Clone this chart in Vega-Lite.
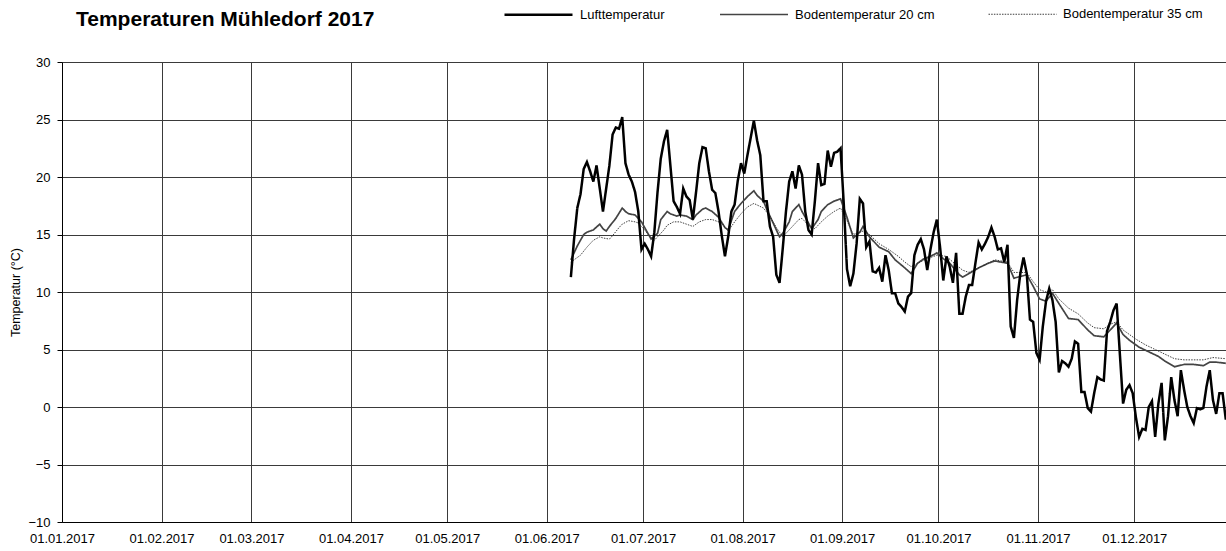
{
  "$schema": "https://vega.github.io/schema/vega-lite/v6.json",
  "width": 1164,
  "height": 460,
  "autosize": "none",
  "padding": {"left": 62, "top": 62, "right": 0, "bottom": 29},
  "background": "white",
  "title": {"text": "Temperaturen Mühledorf 2017", "anchor": "start", "frame": "group", "dx": 14, "offset": -68, "baseline": "alphabetic", "font": "Liberation Sans", "fontSize": 21, "fontWeight": "bold", "color": "#000"},
  "data": {"values": [
    {"d":"2017-06-08T12:00","s":"Lufttemperatur","v":11.3},
    {"d":"2017-06-09T12:00","s":"Lufttemperatur","v":14.6},
    {"d":"2017-06-10T12:00","s":"Lufttemperatur","v":17.3},
    {"d":"2017-06-11T12:00","s":"Lufttemperatur","v":18.5},
    {"d":"2017-06-12T12:00","s":"Lufttemperatur","v":20.7},
    {"d":"2017-06-13T12:00","s":"Lufttemperatur","v":21.3},
    {"d":"2017-06-14T12:00","s":"Lufttemperatur","v":20.5},
    {"d":"2017-06-15T12:00","s":"Lufttemperatur","v":19.6},
    {"d":"2017-06-16T12:00","s":"Lufttemperatur","v":21.0},
    {"d":"2017-06-17T12:00","s":"Lufttemperatur","v":19.0},
    {"d":"2017-06-18T12:00","s":"Lufttemperatur","v":17.0},
    {"d":"2017-06-19T12:00","s":"Lufttemperatur","v":19.0},
    {"d":"2017-06-20T12:00","s":"Lufttemperatur","v":21.0},
    {"d":"2017-06-21T12:00","s":"Lufttemperatur","v":23.7},
    {"d":"2017-06-22T12:00","s":"Lufttemperatur","v":24.3},
    {"d":"2017-06-23T12:00","s":"Lufttemperatur","v":24.2},
    {"d":"2017-06-24T12:00","s":"Lufttemperatur","v":25.2},
    {"d":"2017-06-25T12:00","s":"Lufttemperatur","v":21.2},
    {"d":"2017-06-26T12:00","s":"Lufttemperatur","v":20.2},
    {"d":"2017-06-27T12:00","s":"Lufttemperatur","v":19.6},
    {"d":"2017-06-28T12:00","s":"Lufttemperatur","v":18.7},
    {"d":"2017-06-29T12:00","s":"Lufttemperatur","v":17.0},
    {"d":"2017-06-30T12:00","s":"Lufttemperatur","v":13.7},
    {"d":"2017-07-01T12:00","s":"Lufttemperatur","v":14.2},
    {"d":"2017-07-02T12:00","s":"Lufttemperatur","v":13.7},
    {"d":"2017-07-03T12:00","s":"Lufttemperatur","v":13.1},
    {"d":"2017-07-04T12:00","s":"Lufttemperatur","v":15.2},
    {"d":"2017-07-05T12:00","s":"Lufttemperatur","v":18.7},
    {"d":"2017-07-06T12:00","s":"Lufttemperatur","v":21.6},
    {"d":"2017-07-07T12:00","s":"Lufttemperatur","v":23.1},
    {"d":"2017-07-08T12:00","s":"Lufttemperatur","v":24.1},
    {"d":"2017-07-09T12:00","s":"Lufttemperatur","v":21.0},
    {"d":"2017-07-10T12:00","s":"Lufttemperatur","v":17.9},
    {"d":"2017-07-11T12:00","s":"Lufttemperatur","v":17.4},
    {"d":"2017-07-12T12:00","s":"Lufttemperatur","v":16.8},
    {"d":"2017-07-13T12:00","s":"Lufttemperatur","v":19.0},
    {"d":"2017-07-14T12:00","s":"Lufttemperatur","v":18.3},
    {"d":"2017-07-15T12:00","s":"Lufttemperatur","v":18.0},
    {"d":"2017-07-16T12:00","s":"Lufttemperatur","v":16.3},
    {"d":"2017-07-17T12:00","s":"Lufttemperatur","v":18.7},
    {"d":"2017-07-18T12:00","s":"Lufttemperatur","v":21.2},
    {"d":"2017-07-19T12:00","s":"Lufttemperatur","v":22.6},
    {"d":"2017-07-20T12:00","s":"Lufttemperatur","v":22.5},
    {"d":"2017-07-21T12:00","s":"Lufttemperatur","v":20.5},
    {"d":"2017-07-22T12:00","s":"Lufttemperatur","v":18.9},
    {"d":"2017-07-23T12:00","s":"Lufttemperatur","v":18.6},
    {"d":"2017-07-24T12:00","s":"Lufttemperatur","v":17.0},
    {"d":"2017-07-25T12:00","s":"Lufttemperatur","v":14.9},
    {"d":"2017-07-26T12:00","s":"Lufttemperatur","v":13.1},
    {"d":"2017-07-27T12:00","s":"Lufttemperatur","v":14.8},
    {"d":"2017-07-28T12:00","s":"Lufttemperatur","v":17.0},
    {"d":"2017-07-29T12:00","s":"Lufttemperatur","v":17.6},
    {"d":"2017-07-30T12:00","s":"Lufttemperatur","v":19.7},
    {"d":"2017-07-31T12:00","s":"Lufttemperatur","v":21.2},
    {"d":"2017-08-01T12:00","s":"Lufttemperatur","v":20.3},
    {"d":"2017-08-02T12:00","s":"Lufttemperatur","v":21.9},
    {"d":"2017-08-03T12:00","s":"Lufttemperatur","v":23.4},
    {"d":"2017-08-04T12:00","s":"Lufttemperatur","v":24.9},
    {"d":"2017-08-05T12:00","s":"Lufttemperatur","v":23.2},
    {"d":"2017-08-06T12:00","s":"Lufttemperatur","v":21.9},
    {"d":"2017-08-07T12:00","s":"Lufttemperatur","v":17.9},
    {"d":"2017-08-08T12:00","s":"Lufttemperatur","v":17.9},
    {"d":"2017-08-09T12:00","s":"Lufttemperatur","v":15.7},
    {"d":"2017-08-10T12:00","s":"Lufttemperatur","v":14.8},
    {"d":"2017-08-11T12:00","s":"Lufttemperatur","v":11.5},
    {"d":"2017-08-12T12:00","s":"Lufttemperatur","v":10.8},
    {"d":"2017-08-13T12:00","s":"Lufttemperatur","v":13.8},
    {"d":"2017-08-14T12:00","s":"Lufttemperatur","v":17.0},
    {"d":"2017-08-15T12:00","s":"Lufttemperatur","v":19.6},
    {"d":"2017-08-16T12:00","s":"Lufttemperatur","v":20.5},
    {"d":"2017-08-17T12:00","s":"Lufttemperatur","v":19.0},
    {"d":"2017-08-18T12:00","s":"Lufttemperatur","v":21.0},
    {"d":"2017-08-19T12:00","s":"Lufttemperatur","v":20.2},
    {"d":"2017-08-20T12:00","s":"Lufttemperatur","v":17.0},
    {"d":"2017-08-21T12:00","s":"Lufttemperatur","v":15.4},
    {"d":"2017-08-22T12:00","s":"Lufttemperatur","v":15.0},
    {"d":"2017-08-23T12:00","s":"Lufttemperatur","v":17.9},
    {"d":"2017-08-24T12:00","s":"Lufttemperatur","v":21.2},
    {"d":"2017-08-25T12:00","s":"Lufttemperatur","v":19.3},
    {"d":"2017-08-26T12:00","s":"Lufttemperatur","v":19.4},
    {"d":"2017-08-27T12:00","s":"Lufttemperatur","v":22.3},
    {"d":"2017-08-28T12:00","s":"Lufttemperatur","v":20.9},
    {"d":"2017-08-29T12:00","s":"Lufttemperatur","v":22.1},
    {"d":"2017-08-30T12:00","s":"Lufttemperatur","v":22.2},
    {"d":"2017-08-31T12:00","s":"Lufttemperatur","v":22.5},
    {"d":"2017-09-01T12:00","s":"Lufttemperatur","v":17.7},
    {"d":"2017-09-02T12:00","s":"Lufttemperatur","v":12.0},
    {"d":"2017-09-03T12:00","s":"Lufttemperatur","v":10.5},
    {"d":"2017-09-04T12:00","s":"Lufttemperatur","v":11.6},
    {"d":"2017-09-05T12:00","s":"Lufttemperatur","v":14.2},
    {"d":"2017-09-06T12:00","s":"Lufttemperatur","v":18.1},
    {"d":"2017-09-07T12:00","s":"Lufttemperatur","v":17.7},
    {"d":"2017-09-08T12:00","s":"Lufttemperatur","v":13.9},
    {"d":"2017-09-09T12:00","s":"Lufttemperatur","v":14.4},
    {"d":"2017-09-10T12:00","s":"Lufttemperatur","v":11.8},
    {"d":"2017-09-11T12:00","s":"Lufttemperatur","v":11.7},
    {"d":"2017-09-12T12:00","s":"Lufttemperatur","v":12.1},
    {"d":"2017-09-13T12:00","s":"Lufttemperatur","v":10.9},
    {"d":"2017-09-14T12:00","s":"Lufttemperatur","v":13.2},
    {"d":"2017-09-15T12:00","s":"Lufttemperatur","v":11.9},
    {"d":"2017-09-16T12:00","s":"Lufttemperatur","v":9.9},
    {"d":"2017-09-17T12:00","s":"Lufttemperatur","v":9.9},
    {"d":"2017-09-18T12:00","s":"Lufttemperatur","v":9.0},
    {"d":"2017-09-19T12:00","s":"Lufttemperatur","v":8.7},
    {"d":"2017-09-20T12:00","s":"Lufttemperatur","v":8.3},
    {"d":"2017-09-21T12:00","s":"Lufttemperatur","v":9.6},
    {"d":"2017-09-22T12:00","s":"Lufttemperatur","v":9.9},
    {"d":"2017-09-23T12:00","s":"Lufttemperatur","v":13.2},
    {"d":"2017-09-24T12:00","s":"Lufttemperatur","v":14.1},
    {"d":"2017-09-25T12:00","s":"Lufttemperatur","v":14.6},
    {"d":"2017-09-26T12:00","s":"Lufttemperatur","v":13.7},
    {"d":"2017-09-27T12:00","s":"Lufttemperatur","v":11.9},
    {"d":"2017-09-28T12:00","s":"Lufttemperatur","v":13.7},
    {"d":"2017-09-29T12:00","s":"Lufttemperatur","v":15.2},
    {"d":"2017-09-30T12:00","s":"Lufttemperatur","v":16.3},
    {"d":"2017-10-01T12:00","s":"Lufttemperatur","v":13.9},
    {"d":"2017-10-02T12:00","s":"Lufttemperatur","v":11.0},
    {"d":"2017-10-03T12:00","s":"Lufttemperatur","v":13.1},
    {"d":"2017-10-04T12:00","s":"Lufttemperatur","v":12.2},
    {"d":"2017-10-05T12:00","s":"Lufttemperatur","v":10.8},
    {"d":"2017-10-06T12:00","s":"Lufttemperatur","v":13.4},
    {"d":"2017-10-07T12:00","s":"Lufttemperatur","v":8.1},
    {"d":"2017-10-08T12:00","s":"Lufttemperatur","v":8.1},
    {"d":"2017-10-09T12:00","s":"Lufttemperatur","v":9.6},
    {"d":"2017-10-10T12:00","s":"Lufttemperatur","v":10.6},
    {"d":"2017-10-11T12:00","s":"Lufttemperatur","v":10.6},
    {"d":"2017-10-12T12:00","s":"Lufttemperatur","v":12.5},
    {"d":"2017-10-13T12:00","s":"Lufttemperatur","v":14.3},
    {"d":"2017-10-14T12:00","s":"Lufttemperatur","v":13.7},
    {"d":"2017-10-15T12:00","s":"Lufttemperatur","v":14.2},
    {"d":"2017-10-16T12:00","s":"Lufttemperatur","v":14.8},
    {"d":"2017-10-17T12:00","s":"Lufttemperatur","v":15.6},
    {"d":"2017-10-18T12:00","s":"Lufttemperatur","v":14.8},
    {"d":"2017-10-19T12:00","s":"Lufttemperatur","v":13.7},
    {"d":"2017-10-20T12:00","s":"Lufttemperatur","v":13.8},
    {"d":"2017-10-21T12:00","s":"Lufttemperatur","v":12.6},
    {"d":"2017-10-22T12:00","s":"Lufttemperatur","v":14.1},
    {"d":"2017-10-23T12:00","s":"Lufttemperatur","v":7.0},
    {"d":"2017-10-24T12:00","s":"Lufttemperatur","v":6.0},
    {"d":"2017-10-25T12:00","s":"Lufttemperatur","v":9.3},
    {"d":"2017-10-26T12:00","s":"Lufttemperatur","v":11.6},
    {"d":"2017-10-27T12:00","s":"Lufttemperatur","v":13.0},
    {"d":"2017-10-28T12:00","s":"Lufttemperatur","v":11.6},
    {"d":"2017-10-29T12:00","s":"Lufttemperatur","v":7.6},
    {"d":"2017-10-30T12:00","s":"Lufttemperatur","v":7.4},
    {"d":"2017-10-31T12:00","s":"Lufttemperatur","v":4.7},
    {"d":"2017-11-01T12:00","s":"Lufttemperatur","v":4.1},
    {"d":"2017-11-02T12:00","s":"Lufttemperatur","v":7.0},
    {"d":"2017-11-03T12:00","s":"Lufttemperatur","v":9.2},
    {"d":"2017-11-04T12:00","s":"Lufttemperatur","v":10.3},
    {"d":"2017-11-05T12:00","s":"Lufttemperatur","v":9.3},
    {"d":"2017-11-06T12:00","s":"Lufttemperatur","v":7.4},
    {"d":"2017-11-07T12:00","s":"Lufttemperatur","v":3.0},
    {"d":"2017-11-08T12:00","s":"Lufttemperatur","v":4.0},
    {"d":"2017-11-09T12:00","s":"Lufttemperatur","v":3.8},
    {"d":"2017-11-10T12:00","s":"Lufttemperatur","v":3.5},
    {"d":"2017-11-11T12:00","s":"Lufttemperatur","v":4.2},
    {"d":"2017-11-12T12:00","s":"Lufttemperatur","v":5.7},
    {"d":"2017-11-13T12:00","s":"Lufttemperatur","v":5.5},
    {"d":"2017-11-14T12:00","s":"Lufttemperatur","v":1.3},
    {"d":"2017-11-15T12:00","s":"Lufttemperatur","v":1.3},
    {"d":"2017-11-16T12:00","s":"Lufttemperatur","v":-0.1},
    {"d":"2017-11-17T12:00","s":"Lufttemperatur","v":-0.4},
    {"d":"2017-11-18T12:00","s":"Lufttemperatur","v":1.2},
    {"d":"2017-11-19T12:00","s":"Lufttemperatur","v":2.6},
    {"d":"2017-11-20T12:00","s":"Lufttemperatur","v":2.4},
    {"d":"2017-11-21T12:00","s":"Lufttemperatur","v":2.3},
    {"d":"2017-11-22T12:00","s":"Lufttemperatur","v":6.6},
    {"d":"2017-11-23T12:00","s":"Lufttemperatur","v":7.4},
    {"d":"2017-11-24T12:00","s":"Lufttemperatur","v":8.4},
    {"d":"2017-11-25T12:00","s":"Lufttemperatur","v":9.0},
    {"d":"2017-11-26T12:00","s":"Lufttemperatur","v":4.6},
    {"d":"2017-11-27T12:00","s":"Lufttemperatur","v":0.3},
    {"d":"2017-11-28T12:00","s":"Lufttemperatur","v":1.5},
    {"d":"2017-11-29T12:00","s":"Lufttemperatur","v":1.9},
    {"d":"2017-11-30T12:00","s":"Lufttemperatur","v":1.2},
    {"d":"2017-12-01T12:00","s":"Lufttemperatur","v":-0.9},
    {"d":"2017-12-02T12:00","s":"Lufttemperatur","v":-2.6},
    {"d":"2017-12-03T12:00","s":"Lufttemperatur","v":-1.9},
    {"d":"2017-12-04T12:00","s":"Lufttemperatur","v":-2.0},
    {"d":"2017-12-05T12:00","s":"Lufttemperatur","v":0.0},
    {"d":"2017-12-06T12:00","s":"Lufttemperatur","v":0.5},
    {"d":"2017-12-07T12:00","s":"Lufttemperatur","v":-2.6},
    {"d":"2017-12-08T12:00","s":"Lufttemperatur","v":0.3},
    {"d":"2017-12-09T12:00","s":"Lufttemperatur","v":2.1},
    {"d":"2017-12-10T12:00","s":"Lufttemperatur","v":-2.9},
    {"d":"2017-12-11T12:00","s":"Lufttemperatur","v":-0.8},
    {"d":"2017-12-12T12:00","s":"Lufttemperatur","v":2.6},
    {"d":"2017-12-13T12:00","s":"Lufttemperatur","v":0.6},
    {"d":"2017-12-14T12:00","s":"Lufttemperatur","v":-0.8},
    {"d":"2017-12-15T12:00","s":"Lufttemperatur","v":3.2},
    {"d":"2017-12-16T12:00","s":"Lufttemperatur","v":1.5},
    {"d":"2017-12-17T12:00","s":"Lufttemperatur","v":0.0},
    {"d":"2017-12-18T12:00","s":"Lufttemperatur","v":-0.8},
    {"d":"2017-12-19T12:00","s":"Lufttemperatur","v":-1.4},
    {"d":"2017-12-20T12:00","s":"Lufttemperatur","v":-0.1},
    {"d":"2017-12-21T12:00","s":"Lufttemperatur","v":-0.2},
    {"d":"2017-12-22T12:00","s":"Lufttemperatur","v":-0.1},
    {"d":"2017-12-23T12:00","s":"Lufttemperatur","v":1.8},
    {"d":"2017-12-24T12:00","s":"Lufttemperatur","v":3.2},
    {"d":"2017-12-25T12:00","s":"Lufttemperatur","v":0.6},
    {"d":"2017-12-26T12:00","s":"Lufttemperatur","v":-0.6},
    {"d":"2017-12-27T12:00","s":"Lufttemperatur","v":1.2},
    {"d":"2017-12-28T12:00","s":"Lufttemperatur","v":1.2},
    {"d":"2017-12-29T12:00","s":"Lufttemperatur","v":-1.1},
    {"d":"2017-06-08T12:00","s":"Bodentemperatur 20 cm","v":12.8},
    {"d":"2017-06-10T12:00","s":"Bodentemperatur 20 cm","v":14.0},
    {"d":"2017-06-12T12:00","s":"Bodentemperatur 20 cm","v":15.0},
    {"d":"2017-06-13T12:00","s":"Bodentemperatur 20 cm","v":15.2},
    {"d":"2017-06-15T12:00","s":"Bodentemperatur 20 cm","v":15.4},
    {"d":"2017-06-17T12:00","s":"Bodentemperatur 20 cm","v":15.9},
    {"d":"2017-06-18T12:00","s":"Bodentemperatur 20 cm","v":15.5},
    {"d":"2017-06-19T12:00","s":"Bodentemperatur 20 cm","v":15.3},
    {"d":"2017-06-20T12:00","s":"Bodentemperatur 20 cm","v":15.7},
    {"d":"2017-06-22T12:00","s":"Bodentemperatur 20 cm","v":16.4},
    {"d":"2017-06-24T12:00","s":"Bodentemperatur 20 cm","v":17.3},
    {"d":"2017-06-25T12:00","s":"Bodentemperatur 20 cm","v":17.0},
    {"d":"2017-06-26T12:00","s":"Bodentemperatur 20 cm","v":16.8},
    {"d":"2017-06-28T12:00","s":"Bodentemperatur 20 cm","v":16.7},
    {"d":"2017-06-30T12:00","s":"Bodentemperatur 20 cm","v":16.1},
    {"d":"2017-07-02T12:00","s":"Bodentemperatur 20 cm","v":15.1},
    {"d":"2017-07-03T12:00","s":"Bodentemperatur 20 cm","v":14.6},
    {"d":"2017-07-05T12:00","s":"Bodentemperatur 20 cm","v":15.1},
    {"d":"2017-07-06T12:00","s":"Bodentemperatur 20 cm","v":16.3},
    {"d":"2017-07-08T12:00","s":"Bodentemperatur 20 cm","v":17.0},
    {"d":"2017-07-09T12:00","s":"Bodentemperatur 20 cm","v":16.8},
    {"d":"2017-07-11T12:00","s":"Bodentemperatur 20 cm","v":16.6},
    {"d":"2017-07-12T12:00","s":"Bodentemperatur 20 cm","v":16.7},
    {"d":"2017-07-14T12:00","s":"Bodentemperatur 20 cm","v":16.6},
    {"d":"2017-07-16T12:00","s":"Bodentemperatur 20 cm","v":16.3},
    {"d":"2017-07-17T12:00","s":"Bodentemperatur 20 cm","v":16.7},
    {"d":"2017-07-19T12:00","s":"Bodentemperatur 20 cm","v":17.2},
    {"d":"2017-07-20T12:00","s":"Bodentemperatur 20 cm","v":17.3},
    {"d":"2017-07-22T12:00","s":"Bodentemperatur 20 cm","v":17.0},
    {"d":"2017-07-24T12:00","s":"Bodentemperatur 20 cm","v":16.5},
    {"d":"2017-07-26T12:00","s":"Bodentemperatur 20 cm","v":15.6},
    {"d":"2017-07-27T12:00","s":"Bodentemperatur 20 cm","v":15.4},
    {"d":"2017-07-29T12:00","s":"Bodentemperatur 20 cm","v":17.0},
    {"d":"2017-07-31T12:00","s":"Bodentemperatur 20 cm","v":17.7},
    {"d":"2017-08-02T12:00","s":"Bodentemperatur 20 cm","v":18.3},
    {"d":"2017-08-04T12:00","s":"Bodentemperatur 20 cm","v":18.8},
    {"d":"2017-08-05T12:00","s":"Bodentemperatur 20 cm","v":18.4},
    {"d":"2017-08-07T12:00","s":"Bodentemperatur 20 cm","v":17.9},
    {"d":"2017-08-08T12:00","s":"Bodentemperatur 20 cm","v":17.2},
    {"d":"2017-08-10T12:00","s":"Bodentemperatur 20 cm","v":16.0},
    {"d":"2017-08-12T12:00","s":"Bodentemperatur 20 cm","v":14.8},
    {"d":"2017-08-13T12:00","s":"Bodentemperatur 20 cm","v":15.1},
    {"d":"2017-08-15T12:00","s":"Bodentemperatur 20 cm","v":16.1},
    {"d":"2017-08-16T12:00","s":"Bodentemperatur 20 cm","v":17.0},
    {"d":"2017-08-18T12:00","s":"Bodentemperatur 20 cm","v":17.6},
    {"d":"2017-08-19T12:00","s":"Bodentemperatur 20 cm","v":17.0},
    {"d":"2017-08-21T12:00","s":"Bodentemperatur 20 cm","v":16.0},
    {"d":"2017-08-22T12:00","s":"Bodentemperatur 20 cm","v":15.5},
    {"d":"2017-08-24T12:00","s":"Bodentemperatur 20 cm","v":16.3},
    {"d":"2017-08-25T12:00","s":"Bodentemperatur 20 cm","v":17.0},
    {"d":"2017-08-27T12:00","s":"Bodentemperatur 20 cm","v":17.6},
    {"d":"2017-08-29T12:00","s":"Bodentemperatur 20 cm","v":17.9},
    {"d":"2017-08-31T12:00","s":"Bodentemperatur 20 cm","v":18.1},
    {"d":"2017-09-02T12:00","s":"Bodentemperatur 20 cm","v":16.5},
    {"d":"2017-09-04T12:00","s":"Bodentemperatur 20 cm","v":14.7},
    {"d":"2017-09-06T12:00","s":"Bodentemperatur 20 cm","v":15.2},
    {"d":"2017-09-07T12:00","s":"Bodentemperatur 20 cm","v":15.7},
    {"d":"2017-09-09T12:00","s":"Bodentemperatur 20 cm","v":14.8},
    {"d":"2017-09-12T12:00","s":"Bodentemperatur 20 cm","v":13.9},
    {"d":"2017-09-15T12:00","s":"Bodentemperatur 20 cm","v":13.5},
    {"d":"2017-09-17T12:00","s":"Bodentemperatur 20 cm","v":12.8},
    {"d":"2017-09-20T12:00","s":"Bodentemperatur 20 cm","v":12.1},
    {"d":"2017-09-22T12:00","s":"Bodentemperatur 20 cm","v":11.6},
    {"d":"2017-09-24T12:00","s":"Bodentemperatur 20 cm","v":12.5},
    {"d":"2017-09-26T12:00","s":"Bodentemperatur 20 cm","v":12.9},
    {"d":"2017-09-28T12:00","s":"Bodentemperatur 20 cm","v":13.1},
    {"d":"2017-09-30T12:00","s":"Bodentemperatur 20 cm","v":13.4},
    {"d":"2017-10-02T12:00","s":"Bodentemperatur 20 cm","v":12.9},
    {"d":"2017-10-04T12:00","s":"Bodentemperatur 20 cm","v":12.5},
    {"d":"2017-10-07T12:00","s":"Bodentemperatur 20 cm","v":11.5},
    {"d":"2017-10-08T12:00","s":"Bodentemperatur 20 cm","v":11.3},
    {"d":"2017-10-10T12:00","s":"Bodentemperatur 20 cm","v":11.6},
    {"d":"2017-10-13T12:00","s":"Bodentemperatur 20 cm","v":12.1},
    {"d":"2017-10-16T12:00","s":"Bodentemperatur 20 cm","v":12.5},
    {"d":"2017-10-18T12:00","s":"Bodentemperatur 20 cm","v":12.7},
    {"d":"2017-10-22T12:00","s":"Bodentemperatur 20 cm","v":12.5},
    {"d":"2017-10-24T12:00","s":"Bodentemperatur 20 cm","v":11.2},
    {"d":"2017-10-28T12:00","s":"Bodentemperatur 20 cm","v":11.5},
    {"d":"2017-10-30T12:00","s":"Bodentemperatur 20 cm","v":10.5},
    {"d":"2017-11-01T12:00","s":"Bodentemperatur 20 cm","v":9.4},
    {"d":"2017-11-03T12:00","s":"Bodentemperatur 20 cm","v":9.2},
    {"d":"2017-11-05T12:00","s":"Bodentemperatur 20 cm","v":9.9},
    {"d":"2017-11-07T12:00","s":"Bodentemperatur 20 cm","v":9.0},
    {"d":"2017-11-10T12:00","s":"Bodentemperatur 20 cm","v":7.7},
    {"d":"2017-11-13T12:00","s":"Bodentemperatur 20 cm","v":7.6},
    {"d":"2017-11-16T12:00","s":"Bodentemperatur 20 cm","v":6.7},
    {"d":"2017-11-18T12:00","s":"Bodentemperatur 20 cm","v":6.2},
    {"d":"2017-11-21T12:00","s":"Bodentemperatur 20 cm","v":6.1},
    {"d":"2017-11-23T12:00","s":"Bodentemperatur 20 cm","v":6.7},
    {"d":"2017-11-25T12:00","s":"Bodentemperatur 20 cm","v":7.3},
    {"d":"2017-11-27T12:00","s":"Bodentemperatur 20 cm","v":6.3},
    {"d":"2017-11-29T12:00","s":"Bodentemperatur 20 cm","v":5.8},
    {"d":"2017-12-02T12:00","s":"Bodentemperatur 20 cm","v":5.2},
    {"d":"2017-12-05T12:00","s":"Bodentemperatur 20 cm","v":4.8},
    {"d":"2017-12-08T12:00","s":"Bodentemperatur 20 cm","v":4.4},
    {"d":"2017-12-10T12:00","s":"Bodentemperatur 20 cm","v":4.0},
    {"d":"2017-12-13T12:00","s":"Bodentemperatur 20 cm","v":3.5},
    {"d":"2017-12-16T12:00","s":"Bodentemperatur 20 cm","v":3.7},
    {"d":"2017-12-19T12:00","s":"Bodentemperatur 20 cm","v":3.7},
    {"d":"2017-12-22T12:00","s":"Bodentemperatur 20 cm","v":3.6},
    {"d":"2017-12-24T12:00","s":"Bodentemperatur 20 cm","v":3.9},
    {"d":"2017-12-26T12:00","s":"Bodentemperatur 20 cm","v":3.9},
    {"d":"2017-12-29T12:00","s":"Bodentemperatur 20 cm","v":3.8},
    {"d":"2017-06-08T12:00","s":"Bodentemperatur 35 cm","v":12.6},
    {"d":"2017-06-11T12:00","s":"Bodentemperatur 35 cm","v":13.2},
    {"d":"2017-06-13T12:00","s":"Bodentemperatur 35 cm","v":13.9},
    {"d":"2017-06-15T12:00","s":"Bodentemperatur 35 cm","v":14.5},
    {"d":"2017-06-17T12:00","s":"Bodentemperatur 35 cm","v":14.8},
    {"d":"2017-06-18T12:00","s":"Bodentemperatur 35 cm","v":14.7},
    {"d":"2017-06-20T12:00","s":"Bodentemperatur 35 cm","v":14.6},
    {"d":"2017-06-21T12:00","s":"Bodentemperatur 35 cm","v":14.9},
    {"d":"2017-06-23T12:00","s":"Bodentemperatur 35 cm","v":15.6},
    {"d":"2017-06-24T12:00","s":"Bodentemperatur 35 cm","v":15.9},
    {"d":"2017-06-26T12:00","s":"Bodentemperatur 35 cm","v":16.2},
    {"d":"2017-06-28T12:00","s":"Bodentemperatur 35 cm","v":16.1},
    {"d":"2017-06-29T12:00","s":"Bodentemperatur 35 cm","v":16.0},
    {"d":"2017-07-01T12:00","s":"Bodentemperatur 35 cm","v":15.4},
    {"d":"2017-07-02T12:00","s":"Bodentemperatur 35 cm","v":15.0},
    {"d":"2017-07-04T12:00","s":"Bodentemperatur 35 cm","v":14.5},
    {"d":"2017-07-05T12:00","s":"Bodentemperatur 35 cm","v":14.8},
    {"d":"2017-07-07T12:00","s":"Bodentemperatur 35 cm","v":15.4},
    {"d":"2017-07-08T12:00","s":"Bodentemperatur 35 cm","v":15.8},
    {"d":"2017-07-10T12:00","s":"Bodentemperatur 35 cm","v":16.1},
    {"d":"2017-07-12T12:00","s":"Bodentemperatur 35 cm","v":16.1},
    {"d":"2017-07-14T12:00","s":"Bodentemperatur 35 cm","v":15.9},
    {"d":"2017-07-16T12:00","s":"Bodentemperatur 35 cm","v":15.7},
    {"d":"2017-07-18T12:00","s":"Bodentemperatur 35 cm","v":16.1},
    {"d":"2017-07-20T12:00","s":"Bodentemperatur 35 cm","v":16.3},
    {"d":"2017-07-22T12:00","s":"Bodentemperatur 35 cm","v":16.3},
    {"d":"2017-07-25T12:00","s":"Bodentemperatur 35 cm","v":16.0},
    {"d":"2017-07-27T12:00","s":"Bodentemperatur 35 cm","v":15.3},
    {"d":"2017-07-29T12:00","s":"Bodentemperatur 35 cm","v":16.1},
    {"d":"2017-07-31T12:00","s":"Bodentemperatur 35 cm","v":16.8},
    {"d":"2017-08-02T12:00","s":"Bodentemperatur 35 cm","v":17.4},
    {"d":"2017-08-04T12:00","s":"Bodentemperatur 35 cm","v":17.7},
    {"d":"2017-08-07T12:00","s":"Bodentemperatur 35 cm","v":17.3},
    {"d":"2017-08-09T12:00","s":"Bodentemperatur 35 cm","v":16.6},
    {"d":"2017-08-11T12:00","s":"Bodentemperatur 35 cm","v":15.6},
    {"d":"2017-08-13T12:00","s":"Bodentemperatur 35 cm","v":14.8},
    {"d":"2017-08-14T12:00","s":"Bodentemperatur 35 cm","v":15.1},
    {"d":"2017-08-16T12:00","s":"Bodentemperatur 35 cm","v":15.7},
    {"d":"2017-08-18T12:00","s":"Bodentemperatur 35 cm","v":16.3},
    {"d":"2017-08-19T12:00","s":"Bodentemperatur 35 cm","v":16.4},
    {"d":"2017-08-21T12:00","s":"Bodentemperatur 35 cm","v":15.8},
    {"d":"2017-08-23T12:00","s":"Bodentemperatur 35 cm","v":15.5},
    {"d":"2017-08-25T12:00","s":"Bodentemperatur 35 cm","v":16.1},
    {"d":"2017-08-27T12:00","s":"Bodentemperatur 35 cm","v":16.6},
    {"d":"2017-08-29T12:00","s":"Bodentemperatur 35 cm","v":17.0},
    {"d":"2017-08-31T12:00","s":"Bodentemperatur 35 cm","v":17.3},
    {"d":"2017-09-02T12:00","s":"Bodentemperatur 35 cm","v":16.2},
    {"d":"2017-09-04T12:00","s":"Bodentemperatur 35 cm","v":15.0},
    {"d":"2017-09-07T12:00","s":"Bodentemperatur 35 cm","v":15.3},
    {"d":"2017-09-09T12:00","s":"Bodentemperatur 35 cm","v":15.0},
    {"d":"2017-09-12T12:00","s":"Bodentemperatur 35 cm","v":14.2},
    {"d":"2017-09-15T12:00","s":"Bodentemperatur 35 cm","v":13.7},
    {"d":"2017-09-18T12:00","s":"Bodentemperatur 35 cm","v":13.1},
    {"d":"2017-09-20T12:00","s":"Bodentemperatur 35 cm","v":12.6},
    {"d":"2017-09-22T12:00","s":"Bodentemperatur 35 cm","v":12.2},
    {"d":"2017-09-24T12:00","s":"Bodentemperatur 35 cm","v":12.5},
    {"d":"2017-09-27T12:00","s":"Bodentemperatur 35 cm","v":12.9},
    {"d":"2017-09-30T12:00","s":"Bodentemperatur 35 cm","v":13.2},
    {"d":"2017-10-03T12:00","s":"Bodentemperatur 35 cm","v":13.1},
    {"d":"2017-10-05T12:00","s":"Bodentemperatur 35 cm","v":12.6},
    {"d":"2017-10-08T12:00","s":"Bodentemperatur 35 cm","v":11.9},
    {"d":"2017-10-10T12:00","s":"Bodentemperatur 35 cm","v":11.7},
    {"d":"2017-10-13T12:00","s":"Bodentemperatur 35 cm","v":12.1},
    {"d":"2017-10-16T12:00","s":"Bodentemperatur 35 cm","v":12.5},
    {"d":"2017-10-18T12:00","s":"Bodentemperatur 35 cm","v":12.8},
    {"d":"2017-10-22T12:00","s":"Bodentemperatur 35 cm","v":12.6},
    {"d":"2017-10-24T12:00","s":"Bodentemperatur 35 cm","v":11.7},
    {"d":"2017-10-28T12:00","s":"Bodentemperatur 35 cm","v":11.7},
    {"d":"2017-10-30T12:00","s":"Bodentemperatur 35 cm","v":10.9},
    {"d":"2017-11-01T12:00","s":"Bodentemperatur 35 cm","v":10.2},
    {"d":"2017-11-03T12:00","s":"Bodentemperatur 35 cm","v":10.0},
    {"d":"2017-11-05T12:00","s":"Bodentemperatur 35 cm","v":10.2},
    {"d":"2017-11-07T12:00","s":"Bodentemperatur 35 cm","v":9.4},
    {"d":"2017-11-10T12:00","s":"Bodentemperatur 35 cm","v":8.6},
    {"d":"2017-11-13T12:00","s":"Bodentemperatur 35 cm","v":8.1},
    {"d":"2017-11-16T12:00","s":"Bodentemperatur 35 cm","v":7.3},
    {"d":"2017-11-18T12:00","s":"Bodentemperatur 35 cm","v":6.9},
    {"d":"2017-11-21T12:00","s":"Bodentemperatur 35 cm","v":6.8},
    {"d":"2017-11-23T12:00","s":"Bodentemperatur 35 cm","v":7.2},
    {"d":"2017-11-25T12:00","s":"Bodentemperatur 35 cm","v":7.4},
    {"d":"2017-11-27T12:00","s":"Bodentemperatur 35 cm","v":6.7},
    {"d":"2017-11-29T12:00","s":"Bodentemperatur 35 cm","v":6.3},
    {"d":"2017-12-01T12:00","s":"Bodentemperatur 35 cm","v":5.9},
    {"d":"2017-12-04T12:00","s":"Bodentemperatur 35 cm","v":5.4},
    {"d":"2017-12-07T12:00","s":"Bodentemperatur 35 cm","v":5.0},
    {"d":"2017-12-10T12:00","s":"Bodentemperatur 35 cm","v":4.6},
    {"d":"2017-12-13T12:00","s":"Bodentemperatur 35 cm","v":4.2},
    {"d":"2017-12-16T12:00","s":"Bodentemperatur 35 cm","v":4.1},
    {"d":"2017-12-19T12:00","s":"Bodentemperatur 35 cm","v":4.1},
    {"d":"2017-12-22T12:00","s":"Bodentemperatur 35 cm","v":4.1},
    {"d":"2017-12-25T12:00","s":"Bodentemperatur 35 cm","v":4.3},
    {"d":"2017-12-29T12:00","s":"Bodentemperatur 35 cm","v":4.2}
  ]},
  "encoding": {
    "x": {"field": "d", "type": "temporal",
      "scale": {"domain": [{"year": 2017, "month": 1, "date": 1}, {"year": 2017, "month": 12, "date": 29, "hours": 13, "minutes": 26}], "nice": false},
      "axis": {"title": null, "format": "%d.%m.%Y", "tickCount": {"interval": "month", "step": 1}, "ticks": false, "labelPadding": 10, "labelOverlap": false, "labelFlush": false, "grid": true, "gridColor": "#3a3a3a", "domainColor": "#000"}},
    "y": {"field": "v", "type": "quantitative",
      "scale": {"domain": [-10, 30], "nice": false, "zero": false},
      "axis": {"title": "Temperatur (°C)", "values": [-10, -5, 0, 5, 10, 15, 20, 25, 30], "tickSize": 5, "tickColor": "#000", "labelPadding": 7, "grid": true, "gridColor": "#3a3a3a", "domainColor": "#000", "titleFont": "Liberation Sans", "titleFontSize": 12.5, "titleFontWeight": "normal", "titleColor": "#000", "titlePadding": 5}},
    "color": {"field": "s", "type": "nominal",
      "scale": {"domain": ["Lufttemperatur", "Bodentemperatur 20 cm", "Bodentemperatur 35 cm"], "range": ["#000000", "#444444", "#2a2a2a"]}},
    "strokeWidth": {"field": "s", "type": "nominal",
      "scale": {"domain": ["Lufttemperatur", "Bodentemperatur 20 cm", "Bodentemperatur 35 cm"], "range": [2.5, 0.9, 1]}},
    "strokeDash": {"field": "s", "type": "nominal",
      "scale": {"domain": ["Lufttemperatur", "Bodentemperatur 20 cm", "Bodentemperatur 35 cm"], "range": [[1, 0], [1, 0], [1.5, 1.2]]}}
  },
  "layer": [
    {"transform": [{"filter": "datum.s != 'Lufttemperatur'"}], "mark": {"type": "line", "clip": true}},
    {"transform": [{"filter": "datum.s == 'Lufttemperatur'"}], "mark": {"type": "line", "clip": true}}
  ],
  "config": {
    "font": "Liberation Sans",
    "view": {"stroke": null},
    "axis": {"labelFont": "Liberation Sans", "labelFontSize": 13, "labelColor": "#000", "gridWidth": 1, "domainWidth": 1},
    "legend": {"orient": "none", "legendX": 441, "legendY": -83, "direction": "horizontal", "title": null, "symbolType": "stroke", "symbolSize": 4624, "labelFont": "Liberation Sans", "labelFontSize": 13, "labelColor": "#000", "labelOffset": 6, "columnPadding": 51, "padding": 0}
  }
}
